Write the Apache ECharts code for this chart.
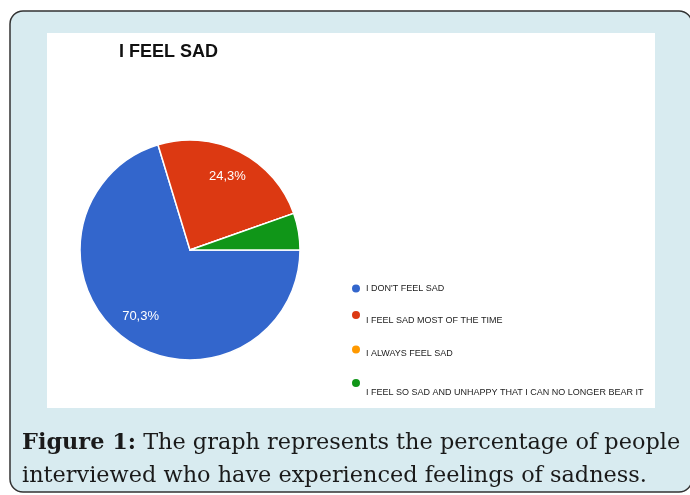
<!DOCTYPE html>
<html>
<head>
<meta charset="utf-8">
<title>I FEEL SAD</title>
<script src="https://cdn.jsdelivr.net/npm/echarts@6/dist/echarts.min.js"></script>
<style>
    html, body { margin: 0; padding: 0; background: #fff; }
    #main { width: 690px; height: 495px; }
</style>
</head>
<body>
<div id="main"></div>
<script>
// 数据
var categories = [
    "I DON'T FEEL SAD",
    'I FEEL SAD MOST OF THE TIME',
    'I ALWAYS FEEL SAD',
    'I FEEL SO SAD AND UNHAPPY THAT I CAN NO LONGER BEAR IT'
];
var percents = [70.3, 24.3, 0, 5.4];
var colors = ['#3366cc', '#dc3912', '#ff9900', '#109618'];

// 图例圆点的中心高度，以及文字相对圆点的下移量
var legendIconY = [288, 315, 349, 383];
var legendTextShift = [0, 6, 4, 10];

var captionBold = 'Figure 1:';
var captionText = ' The graph represents the percentage of people\ninterviewed who have experienced feelings of sadness.';

/**
 * 百分比格式（逗号小数点）
 */
function formatPercent(value) {
    if (value < 10) {
        return '';
    }
    return value.toFixed(1).replace('.', ',') + '%';
}

var pieData = categories.map(function(name, i) {
    return { name: name, value: percents[i], itemStyle: { color: colors[i] } };
});

// 只用于放置标签的透明环
var labelData = categories.map(function(name, i) {
    return { name: name, value: percents[i], itemStyle: { color: 'rgba(0,0,0,0)' } };
});

// 每个图例单独一个；文字前加空行让它比圆点低一些
var legends = categories.map(function(name, i) {
    var shift = legendTextShift[i];
    var lineH = shift > 0 ? shift * 2 : 11;
    var boxTop = shift > 0 ? legendIconY[i] - shift * 2 : legendIconY[i] - 5.5;
    return {
        orient: 'vertical',
        left: 350,
        top: boxTop,
        padding: 0,
        icon: 'circle',
        itemWidth: 10,
        itemHeight: 10,
        selectedMode: false,
        data: [name],
        formatter: function(n) {
            return shift > 0 ? '\n' + n : n;
        },
        textStyle: {
            fontFamily: 'Liberation Sans',
            fontSize: 9,
            lineHeight: lineH,
            color: '#222'
        }
    };
});

var option = {
    backgroundColor: '#fff',
    animation: false,
    graphic: [{
        type: 'rect',
        z: -10,
        shape: { x: 10, y: 11, width: 682, height: 481, r: 13 },
        style: { fill: '#d8ebf0', stroke: '#333', lineWidth: 1.5 }
    }, {
        type: 'rect',
        z: -9,
        shape: { x: 47, y: 33, width: 608, height: 375 },
        style: { fill: '#fff' }
    }],
    title: [{
        text: 'I FEEL SAD',
        left: 114,
        top: 38,
        textStyle: {
            fontFamily: 'Liberation Sans',
            fontSize: 18,
            fontWeight: 'bold',
            color: '#111'
        }
    }, {
        text: '{b|' + captionBold + '}' + captionText,
        left: 22,
        top: 427,
        padding: 0,
        textStyle: {
            fontFamily: 'DejaVu Serif',
            fontSize: 22.4,
            fontWeight: 'normal',
            color: '#1a1a1a',
            lineHeight: 33,
            rich: {
                b: {
                    fontFamily: 'DejaVu Serif',
                    fontSize: 22.4,
                    fontWeight: 'bold',
                    color: '#1a1a1a',
                    lineHeight: 33
                }
            }
        }
    }],
    legend: legends,
    series: [{
        name: 'I FEEL SAD',
        type: 'pie',
        center: [190, 250],
        radius: 110,
        startAngle: 0,
        clockwise: true,
        silent: true,
        itemStyle: { borderColor: '#fff', borderWidth: 1.5 },
        label: { show: false },
        labelLine: { show: false },
        data: pieData
    }, {
        name: 'labels',
        type: 'pie',
        center: [190, 250],
        radius: [50, 110],
        startAngle: 0,
        clockwise: true,
        silent: true,
        label: {
            show: true,
            position: 'inside',
            color: '#fff',
            fontFamily: 'Liberation Sans',
            fontSize: 13,
            formatter: function(params) {
                return formatPercent(params.value);
            }
        },
        labelLine: { show: false },
        data: labelData
    }]
};

var chart = echarts.init(document.getElementById('main'));
chart.setOption(option);
</script>
</body>
</html>
